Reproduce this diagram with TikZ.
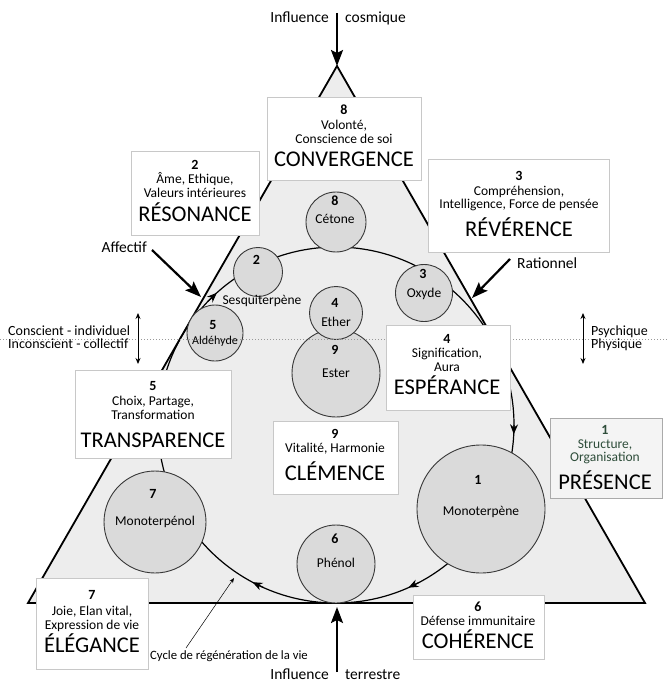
\documentclass[tikz,border=0pt]{standalone}
\usepackage{fontspec}
\setmainfont{Carlito}
\usetikzlibrary{arrows.meta}
\definecolor{trifill}{HTML}{EDEDED}
\definecolor{circfill}{HTML}{DADADA}
\definecolor{boxline}{HTML}{C8C8C8}
\definecolor{presfill}{HTML}{F4F4F4}
\definecolor{presline}{HTML}{AAAAAA}
\definecolor{darkgreen}{HTML}{2E4D3A}
\newcommand\putline[5][]{\node[anchor=base,inner sep=0pt,#1] (#2) at (#3,#4) {#5};}
\begin{document}
\begin{tikzpicture}[x=1pt,y=-1pt,
  box/.style={draw=boxline, line width=0.8pt, fill=white, inner sep=0pt},
  mol/.style={circle, draw=black!78, line width=0.9pt, fill=circfill, inner sep=0pt},
  sm/.style={font=\fontsize{13.5}{15}\selectfont},
  num/.style={font=\bfseries\fontsize{14}{15}\selectfont},
  bigw/.style={font=\fontsize{22.5}{25}\selectfont},
  lab/.style={font=\fontsize{15.5}{17}\selectfont},
  side/.style={font=\fontsize{14}{15}\selectfont},
  thickarrow/.style={line width=2.2pt, -{Stealth[length=16pt,width=12pt,inset=3pt]}},
  cycarrow/.style={line width=1.2pt, -{Stealth[length=10pt,width=8pt]}},
  dblarrow/.style={line width=0.9pt, {Stealth[length=6pt,width=5pt]}-{Stealth[length=6pt,width=5pt]}},
  dotline/.style={gray!80, line width=0.6pt, dash pattern=on 1pt off 2pt}]
\useasboundingbox (0,0) rectangle (668,684);

% triangle
\coordinate (apex) at (337,66);
\coordinate (bl) at (28,603);
\coordinate (br) at (645,603);
\fill[trifill] (apex) -- (bl) -- (br) -- cycle;
\draw[line width=1.8pt, line join=miter] (apex) -- (bl) -- (br) -- cycle;

% cycle of regeneration
\node[circle, draw, line width=1.2pt, minimum size=356pt, inner sep=0pt, outer sep=0pt] (cyc) at (336,425) {};
\draw[cycarrow] (cyc.0) -- (cyc.-3);
\draw[cycarrow] (cyc.-62) -- (cyc.-66);
\draw[cycarrow] (cyc.-114) -- (cyc.-118);
\draw[cycarrow] (cyc.136) -- (cyc.132);

% molecule circles
\node[mol, minimum size=60pt] (cet) at (336,222) {};
\node[mol, minimum size=49pt] (ses) at (258,272) {};
\node[mol, minimum size=57pt] (oxy) at (424,293) {};
\node[mol, minimum size=88pt] (est) at (336,373) {};
\node[mol, minimum size=53pt] (eth) at (336,313) {};
\node[mol, minimum size=56pt] (ald) at (215,333) {};
\node[mol, minimum size=102pt] (mtl) at (155,522) {};
\node[mol, minimum size=78pt] (phe) at (336,564) {};
\node[mol, minimum size=128pt] (mtp) at (481,509) {};

\putline[num]{cetn}{335}{205.5}{8}
\putline[sm]{cetl}{335}{223.5}{Cétone}
\putline[num]{sesn}{256.5}{264.5}{2}
\putline[sm]{sesl}{262}{304.5}{Sesquiterpène}
\putline[num]{oxyn}{423}{278.5}{3}
\putline[sm]{oxyl}{424}{297.5}{Oxyde}
\putline[num]{ethn}{335}{307.5}{4}
\putline[sm]{ethl}{336}{326.5}{Ether}
\putline[num]{estn}{335}{354.5}{9}
\putline[sm]{estl}{336}{377.5}{Ester}
\putline[num]{aldn}{213}{329.5}{5}
\putline[font=\fontsize{12}{13}\selectfont]{aldl}{215}{344}{Aldéhyde}
\putline[num]{mtln}{153}{498.5}{7}
\putline[sm]{mtll}{155}{525.5}{Monoterpénol}
\putline[num]{phen}{335}{543.5}{6}
\putline[sm]{phel}{336}{567.5}{Phénol}
\putline[num]{mtpn}{478}{484.5}{1}
\putline[sm]{mtpl}{481}{515.5}{Monoterpène}

% dotted separator
\coordinate (dl) at (0,339);
\coordinate (dr) at (668,339);
\draw[dotline] (dl) -- (dr);

% boxes
\node[box, minimum width=154pt, minimum height=83pt] (bconv) at (344,138.5) {};
\node[box, minimum width=128pt, minimum height=84pt] (breso) at (195,193) {};
\node[box, minimum width=181pt, minimum height=93pt] (breve) at (518.5,205.5) {};
\node[box, minimum width=124pt, minimum height=85pt] (bespe) at (448,367.5) {};
\node[box, minimum width=156pt, minimum height=88pt] (btrans) at (153,414) {};
\node[box, minimum width=125pt, minimum height=73pt] (bclem) at (335.5,457.5) {};
\node[box, fill=presfill, draw=presline, minimum width=112pt, minimum height=80pt] (bpres) at (606,458) {};
\node[box, minimum width=112pt, minimum height=91pt] (beleg) at (92,623.5) {};
\node[box, minimum width=131pt, minimum height=64pt] (bcohe) at (478.5,627) {};

% box texts
\putline[num]{convn}{344}{114.5}{8}
\putline[sm]{conva}{344}{129.5}{Volonté,}
\putline[sm]{convb}{344}{143.5}{Conscience de soi}
\putline[bigw]{convw}{344}{166.5}{CONVERGENCE}

\putline[num]{reson}{195}{169.5}{2}
\putline[sm]{resoa}{195}{183.5}{Âme, Ethique,}
\putline[sm]{resob}{195}{197.5}{Valeurs intérieures}
\putline[bigw]{resow}{195}{221.5}{RÉSONANCE}

\putline[num]{reven}{519}{180.5}{3}
\putline[sm]{revea}{519}{195.5}{Compréhension,}
\putline[sm]{reveb}{519}{208.5}{Intelligence, Force de pensée}
\putline[bigw]{revew}{519}{236.5}{RÉVÉRENCE}

\putline[num]{espen}{447}{343.5}{4}
\putline[sm]{espea}{447}{357.5}{Signification,}
\putline[sm]{espeb}{447}{371.5}{Aura}
\putline[bigw]{espew}{447}{394.5}{ESPÉRANCE}

\putline[num]{transn}{153}{390.5}{5}
\putline[sm]{transa}{153}{405.5}{Choix, Partage,}
\putline[sm]{transb}{153}{419.5}{Transformation}
\putline[bigw]{transw}{153}{447.5}{TRANSPARENCE}

\putline[num]{clemn}{335}{438.5}{9}
\putline[sm]{clema}{335}{452.5}{Vitalité, Harmonie}
\putline[bigw]{clemw}{335}{480.5}{CLÉMENCE}

\putline[num, text=darkgreen]{presn}{605}{434.5}{1}
\putline[sm, text=darkgreen]{presa}{605}{448.5}{Structure,}
\putline[sm, text=darkgreen]{presb}{605}{461.5}{Organisation}
\putline[bigw]{presw}{605}{489.5}{PRÉSENCE}

\putline[num]{elegn}{92}{599.5}{7}
\putline[sm]{elega}{92}{615.5}{Joie, Elan vital,}
\putline[sm]{elegb}{92}{629.5}{Expression de vie}
\putline[bigw]{elegw}{92}{652.5}{ÉLÉGANCE}

\putline[num]{cohen}{478}{611.5}{6}
\putline[sm]{cohea}{478}{625.5}{Défense immunitaire}
\putline[bigw]{cohew}{478}{648.5}{COHÉRENCE}

% influences
\node[lab, anchor=base east, inner sep=0pt] (infc) at (329,23) {Influence};
\node[lab, anchor=base west, inner sep=0pt] (cosm) at (345,23) {cosmique};
\coordinate (topstart) at (337,13);
\draw[thickarrow] (topstart) -- (apex);
\node[lab, anchor=base east, inner sep=0pt] (inft) at (329,679) {Influence};
\node[lab, anchor=base west, inner sep=0pt] (terr) at (345,679) {terrestre};
\coordinate (botstart) at (337,672);
\coordinate (bottip) at (337,607);
\draw[thickarrow] (botstart) -- (bottip);

% affectif / rationnel
\node[lab, anchor=base east, inner sep=0pt] (affl) at (147,253) {Affectif};
\coordinate (affs) at (152,250);
\coordinate (affe) at (201,297);
\draw[thickarrow] (affs) -- (affe);
\node[lab, anchor=base west, inner sep=0pt] (ratl) at (517,268) {Rationnel};
\coordinate (rats) at (510,259);
\coordinate (rate) at (472,298);
\draw[thickarrow] (rats) -- (rate);

% conscious / psychic
\coordinate (la1) at (138,313);
\coordinate (la2) at (138,364);
\draw[dblarrow] (la1) -- (la2);
\node[side, anchor=base west, inner sep=0pt] (consc) at (8,335) {Conscient - individuel};
\node[side, anchor=base west, inner sep=0pt] (incon) at (8,348.5) {Inconscient - collectif};
\coordinate (ra1) at (583,313);
\coordinate (ra2) at (583,364);
\draw[dblarrow] (ra1) -- (ra2);
\node[side, anchor=base west, inner sep=0pt] (psych) at (591,335) {Psychique};
\node[side, anchor=base west, inner sep=0pt] (phys) at (591,348.5) {Physique};

% cycle label
\node[font=\fontsize{12.7}{14}\selectfont, anchor=base west, inner sep=0pt] (cyclab) at (150,659.5) {Cycle de régénération de la vie};
\coordinate (cyct) at (186,648);
\coordinate (cych) at (234,578);
\draw[line width=0.5pt, -{Stealth[length=5pt,width=4pt]}] (cyct) -- (cych);
\end{tikzpicture}
\end{document}
